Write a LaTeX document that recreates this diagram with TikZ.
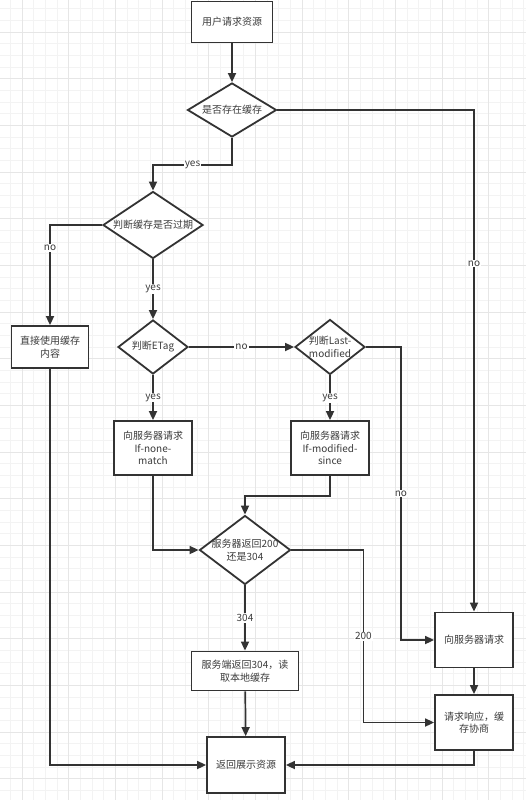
\documentclass[tikz,border=0pt]{standalone}
\usepackage{fontspec}
\setmainfont{Noto Sans CJK SC}
\usepackage{tikz}
\usepackage{xcolor}
\usetikzlibrary{arrows.meta,shapes.geometric}
\definecolor{LineGray}{HTML}{333333}
\definecolor{TextGray}{HTML}{3C3C3C}
\definecolor{GridMinor}{HTML}{F3F3F3}
\definecolor{GridMajor}{HTML}{E6E6E6}

\begin{document}
\begin{tikzpicture}[
      x=1pt,y=-1pt,
      font=\fontsize{10}{12.5}\selectfont,
      box/.style={draw=LineGray,fill=white,line width=1.8pt,align=center,text=TextGray,inner sep=1pt},
      dia/.style={draw=LineGray,fill=white,line width=1.8pt,diamond,inner sep=0pt},
      dtxt/.style={align=center,text=TextGray,inner sep=0pt},
      lbl/.style={fill=white,text=TextGray,inner sep=1pt},
      arr/.style={draw=LineGray,line width=1.7pt,-{Triangle[length=9pt,width=8pt]}}
    ]
      \useasboundingbox[fill=white] (0,0) rectangle (526,800);
      % background grid
      \foreach \i in {-2,...,43} \draw[GridMinor,line width=0.8pt] ({22+11.667*\i},0) -- ({22+11.667*\i},800);
      \foreach \i in {-3,...,66} \draw[GridMinor,line width=0.8pt] (0,{32+11.667*\i}) -- (526,{32+11.667*\i});
      \foreach \i in {0,...,10} \draw[GridMajor,line width=0.9pt] ({22+46.667*\i},0) -- ({22+46.667*\i},800);
      \foreach \i in {-1,...,16} \draw[GridMajor,line width=0.9pt] (0,{32+46.667*\i}) -- (526,{32+46.667*\i});

      % nodes
      \node[box,minimum width=81pt,minimum height=41pt] (req) at (232,22) {用户请求资源};
      \node[dia,minimum width=89pt,minimum height=54pt,label={[dtxt]center:是否存在缓存}] (hasCache) at (232,110) {};
      \node[dia,minimum width=100pt,minimum height=67pt,label={[dtxt]center:判断缓存是否过期}] (expired) at (153,225) {};
      \node[box,minimum width=77pt,minimum height=42pt] (useCache) at (50,347) {直接使用缓存\\内容};
      \node[dia,minimum width=70pt,minimum height=54pt,label={[dtxt]center:判断ETag}] (etag) at (153,347) {};
      \node[dia,minimum width=70pt,minimum height=55pt,label={[dtxt]center:{判断Last-\\modified}}] (lastMod) at (330,347) {};
      \node[box,minimum width=78pt,minimum height=54pt] (noneMatch) at (153,448) {向服务器请求\\If-none-\\match};
      \node[box,minimum width=78pt,minimum height=54pt] (modSince) at (330,448) {向服务器请求\\If-modified-\\since};
      \node[dia,minimum width=91pt,minimum height=69pt,label={[dtxt]center:{服务器返回200\\还是304}}] (status) at (245,550) {};
      \node[box,minimum width=107pt,minimum height=39pt] (local304) at (245,671) {服务端返回304，读\\取本地缓存};
      \node[box,minimum width=78pt,minimum height=56pt] (show) at (246,765) {返回展示资源};
      \node[box,minimum width=78pt,minimum height=55pt] (server) at (474,640) {向服务器请求};
      \node[box,minimum width=78pt,minimum height=55pt] (negotiate) at (474,722.5) {请求响应，缓\\存协商};

      % connectors
      \draw[arr] (req) -- (hasCache);
      \draw[arr] (hasCache.south) -- ++(0,27) -| node[lbl,pos=0.25] {yes} (expired.north);
      \draw[arr] (hasCache.east) -| node[lbl,pos=0.653] {no} (server.north);
      \draw[arr] (expired.west) -| node[lbl,pos=0.614] {no} (useCache.north);
      \draw[arr] (expired) -- node[lbl] {yes} (etag);
      \draw[arr] (etag) -- node[lbl] {no} (lastMod);
      \draw[arr] (etag) -- node[lbl] {yes} (noneMatch);
      \draw[arr] (lastMod) -- node[lbl] {yes} (modSince);
      \draw[arr] (lastMod.east) -- ++(35,0) |- node[lbl,pos=0.25] {no} (server.west);
      \draw[arr] (noneMatch.south) |- (status.west);
      \draw[arr] (modSince.south) -- ++(0,20) -| (status.north);
      \draw[arr] (status.east) -- ++(72,0) |- node[lbl,pos=0.25] {200} (negotiate.west);
      \draw[arr] (status) -- node[lbl] {304} (local304);
      \draw[arr] (local304) -- (show);
      \draw[arr] (useCache.south) |- (show.west);
      \draw[arr] (server) -- (negotiate);
      \draw[arr] (negotiate.south) |- (show.east);
    \end{tikzpicture}
\end{document}
